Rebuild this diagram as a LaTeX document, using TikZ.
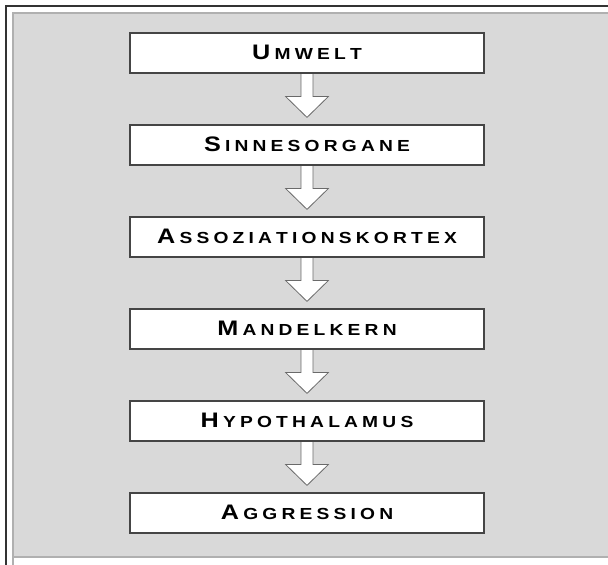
\documentclass[tikz,border=0pt]{standalone}
\usepackage{graphicx}
\usepackage{fontspec}
\setmainfont{Liberation Sans}
\usetikzlibrary{calc}
\definecolor{bggray}{HTML}{D9D9D9}
\definecolor{bgedge}{HTML}{B0B0B0}
\definecolor{boxedge}{HTML}{454545}
\definecolor{arredge}{HTML}{6A6A6A}
\definecolor{frame}{HTML}{333333}
\newcommand\lspA[1]{\ifx#1\relax\else\kern3.5pt#1\expandafter\lspA\fi}
\newcommand\lsptitle[2]{\raisebox{1pt}{\scalebox{1.2}[1]{\bfseries{\fontsize{21}{21}\selectfont #1}{\fontsize{16}{16}\selectfont\lspA#2\relax}}}}
\tikzset{
  stagebox/.style={draw=boxedge, line width=1.2pt, fill=white, minimum width=354pt, minimum height=40pt, inner sep=0pt, text depth=0pt},
  flowarrow/.style={fill=white, draw=arredge, line width=0.8pt, line join=miter}
}
\begin{document}
\begin{tikzpicture}[x=1pt,y=-1pt]
\useasboundingbox (0,0) rectangle (608,565);
\begin{scope}
\clip (0,0) rectangle (608,565);
\fill[bggray] (13,13) rectangle (615,557);
\draw[bgedge, line width=1.2pt] (13,565) -- (13,13) -- (615,13);
\draw[bgedge, line width=1.2pt] (13,557) -- (615,557);
\draw[frame, line width=1.8pt] (6,575) -- (6,6) -- (620,6);
\end{scope}
\node[stagebox] (b1) at (307,53) {\lsptitle{U}{MWELT}};
\node[stagebox] (b2) at (307,145) {\lsptitle{S}{INNESORGANE}};
\node[stagebox] (b3) at (307,237) {\lsptitle{A}{SSOZIATIONSKORTEX}};
\node[stagebox] (b4) at (307,329) {\lsptitle{M}{ANDELKERN}};
\node[stagebox] (b5) at (307,421) {\lsptitle{H}{YPOTHALAMUS}};
\node[stagebox] (b6) at (307,513) {\lsptitle{A}{GGRESSION}};
\foreach \a/\b in {b1/b2,b2/b3,b3/b4,b4/b5,b5/b6}{
  \coordinate (s) at (\a.south);
  \coordinate (t) at ($(\b.north)+(0,-7)$);
  \draw[flowarrow] ($(s)+(-6,0.6)$) -- ($(t)+(-6,-21)$) -- ($(t)+(-21.5,-21)$) -- (t) -- ($(t)+(21.5,-21)$) -- ($(t)+(6,-21)$) -- ($(s)+(6,0.6)$);
}
\end{tikzpicture}
\end{document}
